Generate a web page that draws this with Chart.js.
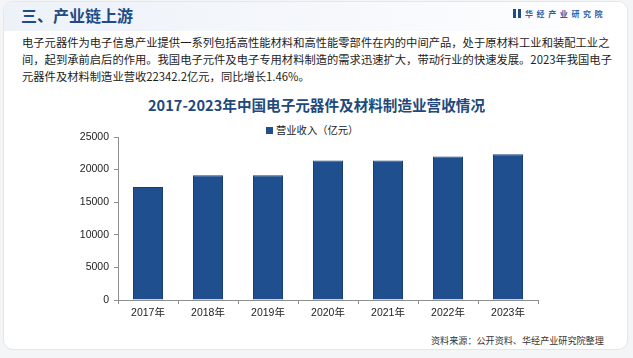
<!DOCTYPE html>
<html>
<head>
<meta charset="utf-8">
<script src="https://cdn.jsdelivr.net/npm/chart.js@4.4.0/dist/chart.umd.min.js"></script>
<style>
  html,body{margin:0;padding:0;width:633px;height:358px;overflow:hidden;background:#f4f5f7;}
  #card{position:absolute;left:3px;top:1px;width:623px;height:347px;background:#fff;border:1px solid #e4e6ea;border-radius:10px;overflow:hidden;}
  #band{position:absolute;left:0;top:0;width:100%;height:29px;background:linear-gradient(90deg,#edf2f9 0%,#f6f8fc 55%,#ffffff 100%);}
  .t{position:absolute;white-space:nowrap;font-family:"Noto Sans CJK SC","Noto Sans",sans-serif;}
  #head{left:21px;top:3px;font-size:16px;font-weight:bold;color:#1f4b86;line-height:24px;}
  #logo{left:513px;top:8px;font-size:8px;line-height:12px;color:#2f5ea6;letter-spacing:3.6px;font-weight:bold;}
  #logo i{display:inline-block;width:8px;height:9px;background:linear-gradient(90deg,#1f4b86 0 35%,transparent 35% 60%,#1f4b86 60%);vertical-align:-1px;margin-right:4px;}
  #body{left:22px;top:34px;font-size:11.3px;line-height:17px;color:#1c1c1c;}
  #title{left:0;width:633px;text-align:center;top:94px;font-size:14.6px;line-height:22px;font-weight:bold;color:#22487c;}
  #legend{left:266px;top:123px;font-size:10.3px;line-height:14px;color:#222;}
  #legend span{display:inline-block;width:7px;height:7px;background:#1f4f8f;margin-right:3px;vertical-align:0px;}
  #src{left:431px;top:334px;font-size:9.1px;line-height:13px;color:#333;}
  #wrap{position:absolute;left:0;top:0;width:633px;height:358px;}
</style>
</head>
<body>
<div id="card"><div id="band"></div></div>
<div class="t" id="head">三、产业链上游</div>
<div class="t" id="logo"><i></i>华经产业研究院</div>
<div class="t" id="body">电子元器件为电子信息产业提供一系列包括高性能材料和高性能零部件在内的中间产品，处于原材料工业和装配工业之<br>间，起到承前启后的作用。我国电子元件及电子专用材料制造的需求迅速扩大，带动行业的快速发展。2023年我国电子<br>元器件及材料制造业营收22342.2亿元，同比增长1.46%。</div>
<div class="t" id="title">2017-2023年中国电子元器件及材料制造业营收情况</div>
<div class="t" id="legend"><span></span>营业收入（亿元）</div>
<div class="t" id="src">资料来源：公开资料、华经产业研究院整理</div>
<div id="wrap"><canvas id="c" width="633" height="358"></canvas></div>
<script>
const categories = ["2017年","2018年","2019年","2020年","2021年","2022年","2023年"];
const revenue = [17350, 19150, 19150, 21400, 21400, 22021, 22342.2];
const seriesName = "营业收入（亿元）";
const yTicks = [0, 5000, 10000, 15000, 20000, 25000];

const axisColor = '#8f8f8f';
const tickFont = {family: '"Liberation Sans", Arial, "Noto Sans CJK SC", sans-serif', size: 10.5};

new Chart(document.getElementById('c'), {
  type: 'bar',
  data: {
    labels: categories,
    datasets: [{
      label: seriesName,
      data: revenue,
      backgroundColor: '#1f4f8f',
      borderColor: '#183f74',
      borderWidth: 1,
      barPercentage: 0.5,
      categoryPercentage: 1.0
    }]
  },
  options: {
    responsive: false,
    animation: false,
    devicePixelRatio: 1,
    layout: {padding: {left: 0, right: 95, top: 137, bottom: 36}},
    plugins: {legend: {display: false}, title: {display: false}, tooltip: {enabled: false}},
    scales: {
      x: {
        grid: {display: true, drawOnChartArea: false, drawTicks: true, tickLength: 4, color: axisColor, offset: true},
        border: {display: true, color: axisColor, width: 1},
        ticks: {color: '#222', font: tickFont, padding: 3, maxRotation: 0},
        afterFit: s => { s.height = 22; }
      },
      y: {
        min: 0, max: 25000,
        afterBuildTicks: s => { s.ticks = yTicks.map(v => ({value: v})); },
        grid: {display: true, drawOnChartArea: false, drawTicks: true, tickLength: 4, color: axisColor},
        border: {display: true, color: axisColor, width: 1},
        ticks: {color: '#222', font: tickFont, padding: 5, callback: v => String(v)},
        afterFit: s => { s.width = 118; }
      }
    }
  }
});
</script>
</body>
</html>
